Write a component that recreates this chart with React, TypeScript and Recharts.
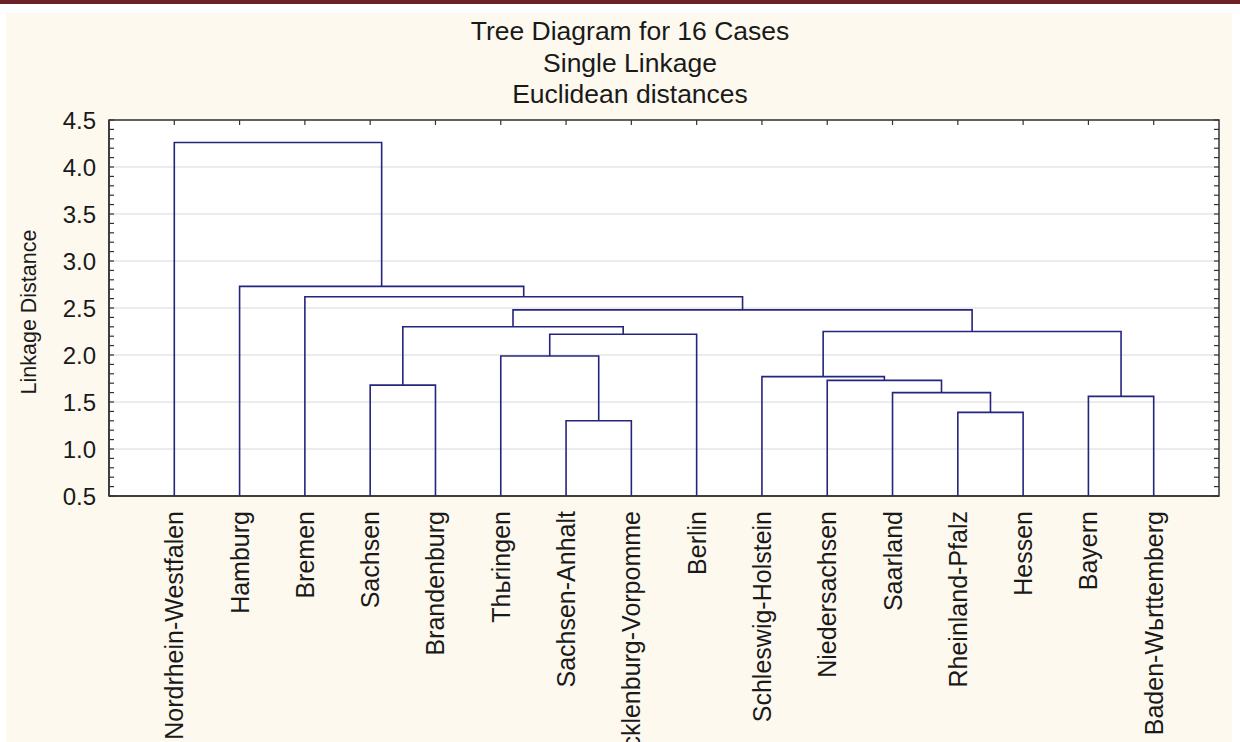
import { CartesianGrid, Line, LineChart, ReferenceArea, XAxis, YAxis } from "recharts";

// leaves in dendrogram order (left to right), text as shown in the picture
const leafNames = [
  "Nordrhein-Westfalen",
  "Hamburg",
  "Bremen",
  "Sachsen",
  "Brandenburg",
  "Thьringen",
  "Sachsen-Anhalt",
  "Mecklenburg-Vorpomme",
  "Berlin",
  "Schleswig-Holstein",
  "Niedersachsen",
  "Saarland",
  "Rheinland-Pfalz",
  "Hessen",
  "Bayern",
  "Baden-Wьrttemberg",
];

// linkage steps: ids 0..15 are leaves, id 16+i is step i
const mergeLeft = [6, 12, 14, 11, 3, 10, 9, 5, 23, 22, 20, 26, 2, 1, 0];
const mergeRight = [7, 13, 15, 17, 4, 19, 21, 16, 8, 18, 24, 25, 27, 28, 29];
const mergeHeight = [1.3, 1.39, 1.56, 1.6, 1.68, 1.73, 1.77, 1.99, 2.22, 2.25, 2.3, 2.48, 2.62, 2.73, 4.26];

const titleLines = ["Tree Diagram for 16 Cases", "Single Linkage", "Euclidean distances"];
const yTicks = [0.5, 1.0, 1.5, 2.0, 2.5, 3.0, 3.5, 4.0, 4.5];
const minorTicks = Array.from({ length: 41 }, (_, i) => Math.round((0.5 + i * 0.1) * 10) / 10);
const leafTicks = leafNames.map((_, i) => i + 1);

const Y_MIN = 0.5;
const Y_MAX = 4.5;
const X_MAX = leafNames.length + 1;
const n = leafNames.length;

function nodeX(id: number): number {
  if (id < n) return id + 1;
  const k = id - n;
  return (nodeX(mergeLeft[k]) + nodeX(mergeRight[k])) / 2;
}

function nodeH(id: number): number {
  return id < n ? Y_MIN : mergeHeight[id - n];
}

const links = mergeHeight.map((h, k) => {
  const l = mergeLeft[k];
  const r = mergeRight[k];
  return [
    { x: nodeX(l), y: nodeH(l) },
    { x: nodeX(l), y: h },
    { x: nodeX(r), y: h },
    { x: nodeX(r), y: nodeH(r) },
  ];
});

const FONT = "'Liberation Sans', Arial, sans-serif";
const LINE = "#25257f";
const AXIS = "#333";

function LeafTick(props: any) {
  const { x, y, payload } = props;
  const name = leafNames[payload.value - 1] ?? "";
  return (
    <text
      x={x}
      y={y}
      transform={`rotate(-90 ${x} ${y})`}
      textAnchor="end"
      dy="0.36em"
      fontSize={25}
      fontFamily={FONT}
      fill="#1a1a1a"
    >
      {name}
    </text>
  );
}

// tick marks only, no label
const NoLabel = () => <g />;

export default function App() {
  return (
    <div
      style={{
        position: "fixed",
        left: 0,
        top: 0,
        width: 1240,
        height: 742,
        overflow: "hidden",
        background: "#ffffff",
        fontFamily: FONT,
      }}
    >
      <div style={{ position: "absolute", left: 0, top: 0, width: 1240, height: 4, background: "#6e2226" }} />
      <div style={{ position: "absolute", left: 6, top: 13, width: 1226, height: 729, background: "#fdf9ee" }} />
      {titleLines.map((t, i) => (
        <div
          key={t}
          style={{
            position: "absolute",
            left: 300,
            width: 660,
            top: 15 + i * 31.5,
            textAlign: "center",
            fontSize: 26.5,
            lineHeight: "32px",
            color: "#1a1a1a",
          }}
        >
          {t}
        </div>
      ))}
      <div
        style={{
          position: "absolute",
          left: 29,
          top: 312,
          transform: "translate(-50%, -50%) rotate(-90deg)",
          whiteSpace: "nowrap",
          fontSize: 21.5,
          color: "#1a1a1a",
        }}
      >
        Linkage Distance
      </div>
      <div style={{ position: "absolute", left: 0, top: 0 }}>
        <LineChart width={1240} height={742} margin={{ top: 120, right: 21, bottom: 0, left: 49 }}>
          <CartesianGrid vertical={false} stroke="#d9d9d9" fill="#ffffff" />
          <XAxis
            dataKey="x"
            type="number"
            domain={[0, X_MAX]}
            ticks={leafTicks}
            interval={0}
            height={246}
            tickLine={false}
            tickSize={0}
            tickMargin={15}
            axisLine={{ stroke: AXIS, strokeWidth: 1.5 }}
            tick={<LeafTick />}
          />
          <XAxis
            xAxisId="top"
            dataKey="x"
            orientation="top"
            type="number"
            domain={[0, X_MAX]}
            ticks={leafTicks}
            interval={0}
            height={6}
            mirror
            tick={NoLabel}
            tickSize={5}
            tickLine={{ stroke: AXIS, strokeWidth: 1.2 }}
            axisLine={false}
          />
          <YAxis
            type="number"
            domain={[Y_MIN, Y_MAX]}
            ticks={yTicks}
            interval={0}
            width={60}
            tickLine={false}
            tickSize={0}
            tickMargin={13}
            tickFormatter={(v: number) => v.toFixed(1)}
            tick={{ fontSize: 24, fill: "#1a1a1a", fontFamily: FONT }}
            axisLine={{ stroke: AXIS, strokeWidth: 1.5 }}
          />
          <YAxis
            yAxisId="minorLeft"
            type="number"
            domain={[Y_MIN, Y_MAX]}
            ticks={minorTicks}
            interval={0}
            width={6}
            mirror
            tick={NoLabel}
            tickSize={5}
            tickLine={{ stroke: AXIS, strokeWidth: 1.2 }}
            axisLine={false}
          />
          <YAxis
            yAxisId="minorRight"
            orientation="right"
            type="number"
            domain={[Y_MIN, Y_MAX]}
            ticks={minorTicks}
            interval={0}
            width={6}
            mirror
            tick={NoLabel}
            tickSize={5}
            tickLine={{ stroke: AXIS, strokeWidth: 1.2 }}
            axisLine={false}
          />
          {/* frame of the plot area */}
          <ReferenceArea x1={0} x2={X_MAX} y1={Y_MIN} y2={Y_MAX} fill="none" stroke={AXIS} strokeWidth={1.5} ifOverflow="visible" />
          {/* invisible series so the mirrored tick axes get a domain */}
          <Line xAxisId="top" yAxisId="minorLeft" data={links[0]} dataKey="y" stroke="none" dot={false} activeDot={false} isAnimationActive={false} />
          <Line xAxisId="top" yAxisId="minorRight" data={links[0]} dataKey="y" stroke="none" dot={false} activeDot={false} isAnimationActive={false} />
          {links.map((pts, k) => (
            <Line
              key={k}
              data={pts}
              dataKey="y"
              type="linear"
              stroke={LINE}
              strokeWidth={1.6}
              dot={false}
              activeDot={false}
              isAnimationActive={false}
            />
          ))}
        </LineChart>
      </div>
    </div>
  );
}
